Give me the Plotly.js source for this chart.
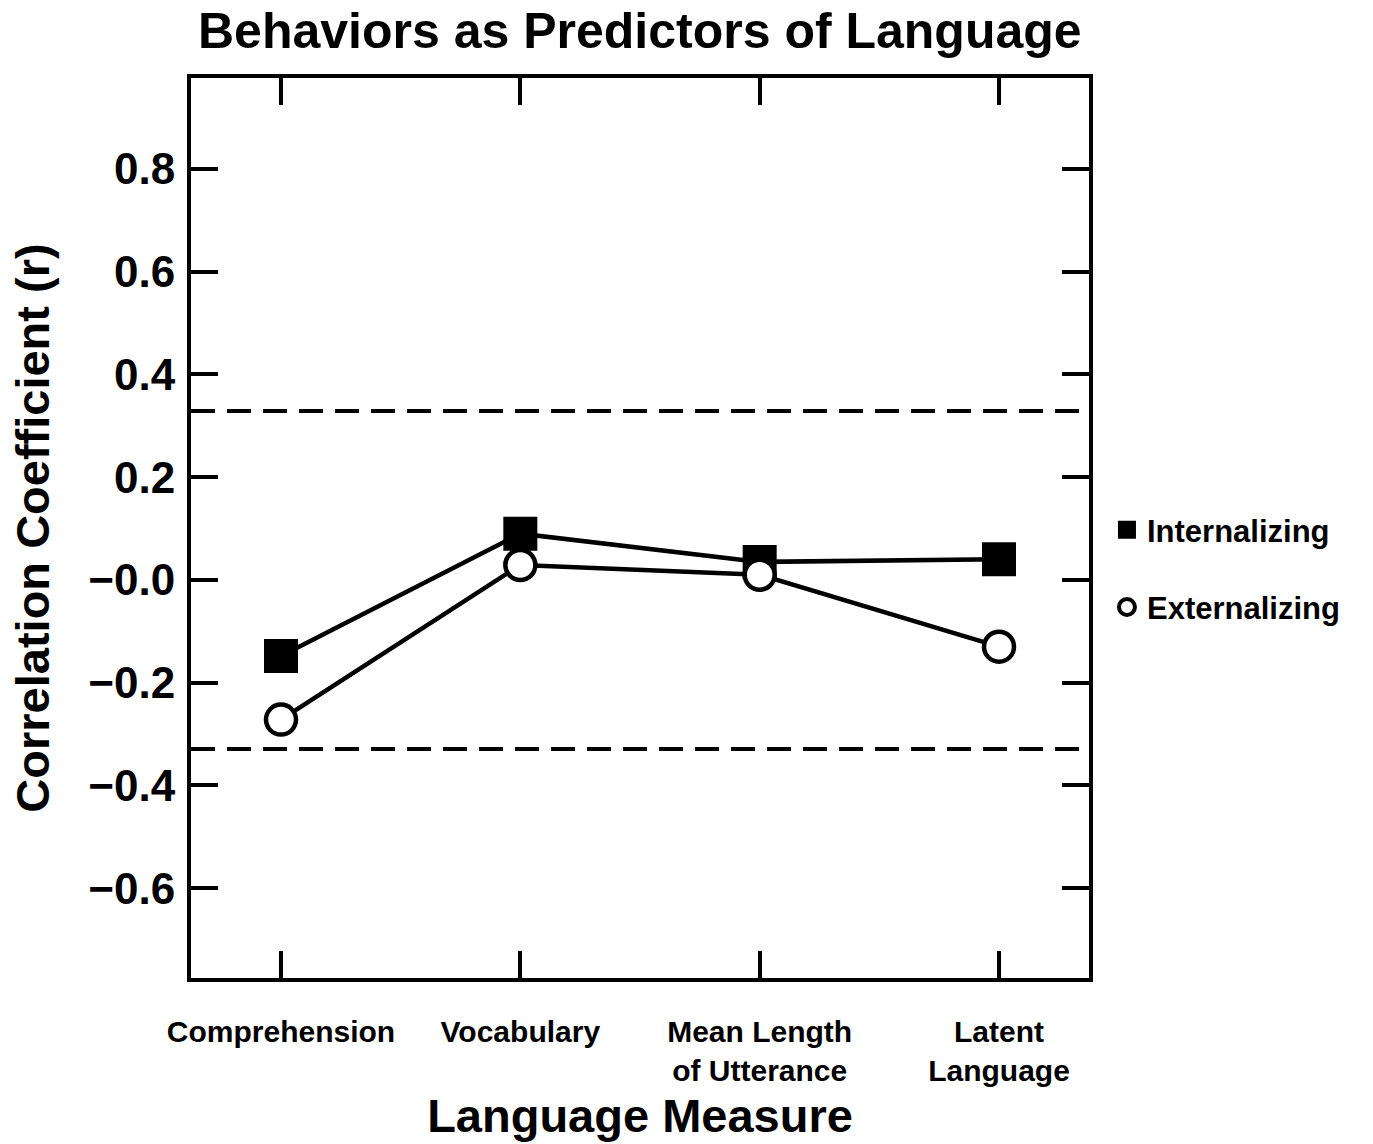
<!DOCTYPE html>
<html>
<head>
<meta charset="utf-8">
<script src="https://cdn.plot.ly/plotly-3.0.1.min.js"></script>
<style>html,body{margin:0;padding:0;background:#fff;}#chart{width:1373px;height:1144px;}</style>
</head>
<body>
<div id="chart"></div>
<script>
const categories = ['Comprehension', 'Vocabulary', 'Mean Length<br>of Utterance', 'Latent<br>Language'];
const internalizing = [-0.148, 0.090, 0.035, 0.040];
const externalizing = [-0.272, 0.029, 0.010, -0.130];
const criticalR = [0.329, -0.329];
const yTickVals = [-0.6, -0.4, -0.2, 0.0, 0.2, 0.4, 0.6, 0.8];
const yTickText = ['\u22120.6', '\u22120.4', '\u22120.2', '\u22120.0', '0.2', '0.4', '0.6', '0.8'];

const FONT = '"Liberation Sans", Arial, sans-serif';
const xIdx = categories.map((c, i) => i);

const traces = [
  {x: xIdx, y: internalizing, mode: 'lines+markers', showlegend: false, cliponaxis: false,
   line: {color: '#000', width: 4.5},
   marker: {symbol: 'square', size: 31, color: '#000', line: {color: '#000', width: 3}}},
  {x: xIdx, y: externalizing, mode: 'lines+markers', showlegend: false, cliponaxis: false,
   line: {color: '#000', width: 4.5},
   marker: {symbol: 'circle', size: 30, color: '#fff', line: {color: '#000', width: 4.5}}},
  {x: [null], y: [null], mode: 'markers', name: 'Internalizing', legendgroup: 'a',
   marker: {symbol: 'square', size: 24, color: '#000', line: {color: '#000', width: 2}}},
  {x: [null], y: [null], mode: 'markers', name: 'Externalizing', legendgroup: 'b',
   marker: {symbol: 'circle', size: 22, color: '#fff', line: {color: '#000', width: 4}}}
];

const shapes = criticalR.map(v => ({
  type: 'line', xref: 'paper', x0: 0, x1: 1, yref: 'y', y0: v, y1: v,
  line: {color: '#000', width: 4, dash: '24px,12px'}
}));

const layout = {
  width: 1373, height: 1144,
  margin: {l: 191, r: 284, t: 78, b: 166, pad: 0},
  paper_bgcolor: '#fff', plot_bgcolor: '#fff',
  font: {family: FONT, color: '#000'},
  title: {text: '<b>Behaviors as Predictors of Language</b>', x: 0.466, xanchor: 'center',
          y: 0.973, yanchor: 'middle', font: {size: 50, family: FONT, color: '#000'}},
  xaxis: {
    range: [-0.376, 3.376], tickvals: xIdx, ticktext: categories.map(c => '<b>' + c + '</b>'),
    showgrid: false, zeroline: false, showline: true, linecolor: '#000', linewidth: 4,
    mirror: 'ticks', ticks: 'inside', ticklen: 27, tickwidth: 4, tickcolor: '#000',
    ticklabelstandoff: 24, tickfont: {size: 30, family: FONT, color: '#000'},
    title: {text: '<b>Language Measure</b>', standoff: 14, font: {size: 47, family: FONT, color: '#000'}}
  },
  yaxis: {
    range: [-0.775, 0.977], tickvals: yTickVals, ticktext: yTickText.map(t => '<b>' + t + '</b>'),
    showgrid: false, zeroline: false, showline: true, linecolor: '#000', linewidth: 4,
    mirror: 'ticks', ticks: 'inside', ticklen: 27, tickwidth: 4, tickcolor: '#000',
    ticklabelstandoff: 3, tickfont: {size: 44, family: FONT, color: '#000'},
    title: {text: '<b>Correlation Coefficient (r)</b>', standoff: 25, font: {size: 47, family: FONT, color: '#000'}}
  },
  showlegend: true,
  legend: {x: 1.02, xanchor: 'left', y: 0.455, yanchor: 'middle', traceorder: 'grouped',
           tracegroupgap: 34, font: {size: 31, family: FONT, color: '#000', weight: 'bold'},
           bgcolor: 'rgba(0,0,0,0)', itemwidth: 30},
  shapes: shapes
};

Plotly.newPlot('chart', traces, layout, {displayModeBar: false, staticPlot: true});
</script>
</body>
</html>
